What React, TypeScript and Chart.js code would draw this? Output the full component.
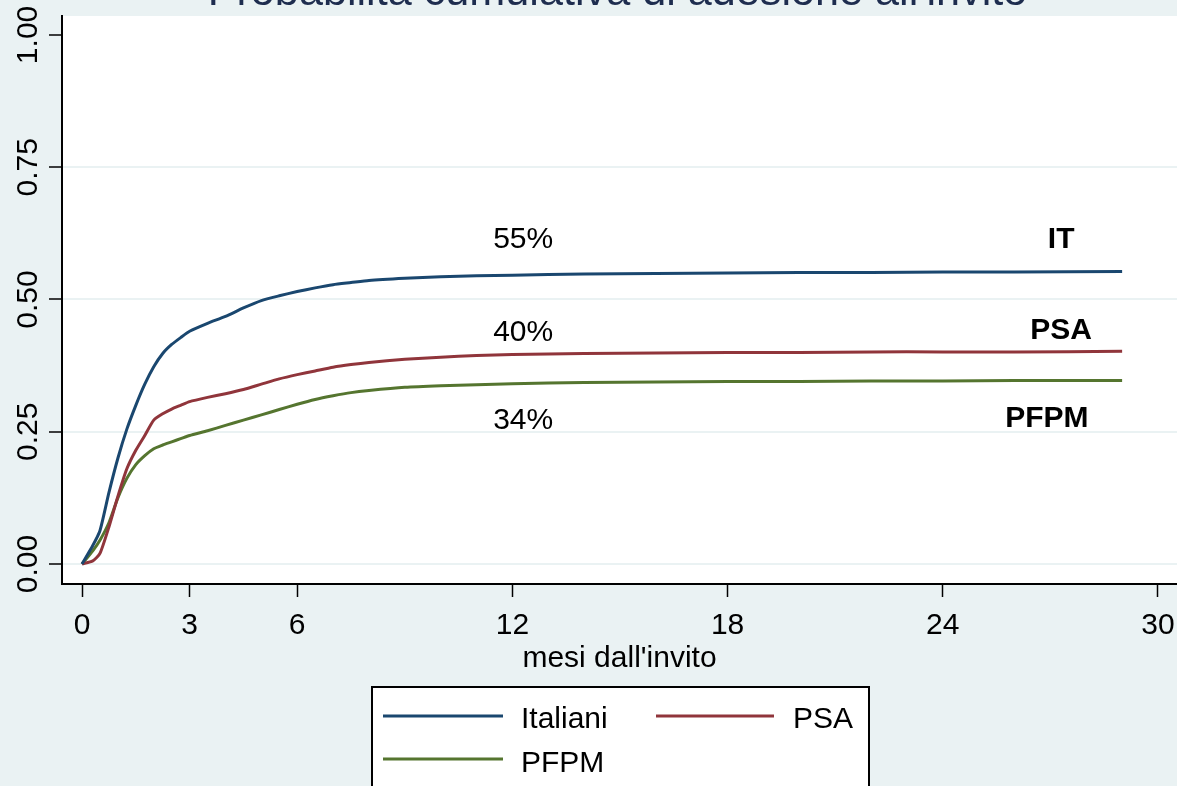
import React, { useEffect, useRef } from "react";
import { Chart, registerables } from "chart.js";

Chart.register(...registerables);

// ---------- data ----------
const months = [0, 0.3, 0.5, 0.75, 1, 1.25, 1.5, 1.75, 2, 2.25, 2.5, 2.75, 3, 3.5, 4, 4.5, 5, 5.5, 6, 6.5, 7, 7.5, 8, 9, 10, 11, 12, 14, 16, 18, 20, 22, 24, 26, 29];

const italiani = [0, 0.035, 0.063, 0.135, 0.2, 0.255, 0.3, 0.34, 0.373, 0.398, 0.415, 0.428, 0.44, 0.455, 0.468, 0.484, 0.498, 0.507, 0.515, 0.522, 0.528, 0.532, 0.536, 0.54, 0.543, 0.545, 0.546, 0.548, 0.549, 0.55, 0.551, 0.551, 0.552, 0.552, 0.553];

const psa = [0, 0.006, 0.02, 0.07, 0.128, 0.18, 0.215, 0.243, 0.272, 0.284, 0.293, 0.3, 0.307, 0.315, 0.322, 0.33, 0.34, 0.35, 0.358, 0.365, 0.372, 0.377, 0.381, 0.387, 0.391, 0.394, 0.396, 0.398, 0.399, 0.4, 0.4, 0.401, 0.401, 0.401, 0.402];

const pfpm = [0, 0.025, 0.045, 0.078, 0.125, 0.162, 0.188, 0.205, 0.218, 0.225, 0.231, 0.237, 0.243, 0.252, 0.262, 0.272, 0.282, 0.292, 0.302, 0.311, 0.318, 0.324, 0.328, 0.334, 0.337, 0.339, 0.341, 0.343, 0.344, 0.345, 0.345, 0.346, 0.346, 0.347, 0.347];

const seriesNames = ["Italiani", "PSA", "PFPM"];
const seriesColors = ["#1a476f", "#90353b", "#55752f"];

const xTicks = [0, 3, 6, 12, 18, 24, 30];
const yTicks = [0, 0.25, 0.5, 0.75, 1];

const pctLabels = ["55%", "40%", "34%"];
const pctX = [12.3, 12.3, 12.3];
const pctY = [0.598, 0.421, 0.255];

const groupLabels = ["IT", "PSA", "PFPM"];
const groupX = [27.3, 27.3, 26.9];
const groupY = [0.598, 0.426, 0.259];

const titleText = "Probabilità cumulativa di adesione all'invito";
const xTitleText = "mesi dall'invito";

const W = 1177;
const H = 786;
const BG = "#EAF2F3";
const FONT = "'Liberation Sans', Arial, sans-serif";

const decorPlugin = {
  id: "decor",
  beforeDraw(chart: any) {
    const { ctx, chartArea } = chart;
    ctx.save();
    ctx.fillStyle = BG;
    ctx.fillRect(0, 0, chart.width, chart.height);
    ctx.fillStyle = "#ffffff";
    ctx.fillRect(chartArea.left, chartArea.top, chartArea.right - chartArea.left, chartArea.bottom - chartArea.top);
    ctx.restore();
  },
  afterDraw(chart: any) {
    const { ctx, chartArea } = chart;
    const xs = chart.scales.x;
    const ys = chart.scales.y;
    ctx.save();
    ctx.fillStyle = "#000";

    // y tick labels (rotated)
    ctx.font = `30px ${FONT}`;
    ctx.textAlign = "center";
    ctx.textBaseline = "alphabetic";
    ys.ticks.forEach((t: any) => {
      const py = ys.getPixelForValue(t.value);
      ctx.save();
      ctx.translate(37, py);
      ctx.rotate(-Math.PI / 2);
      ctx.fillText(Number(t.value).toFixed(2), 0, 0);
      ctx.restore();
    });

    // x tick labels
    xs.ticks.forEach((t: any) => {
      const px = xs.getPixelForValue(t.value);
      ctx.fillText(String(t.value), px, 634);
    });

    // x title
    const cx = (chartArea.left + chartArea.right) / 2;
    ctx.fillText(xTitleText, cx, 667);

    // in-plot labels
    pctLabels.forEach((l, i) => {
      ctx.fillText(l, xs.getPixelForValue(pctX[i]), ys.getPixelForValue(pctY[i]));
    });
    ctx.font = `bold 30px ${FONT}`;
    groupLabels.forEach((l, i) => {
      ctx.fillText(l, xs.getPixelForValue(groupX[i]), ys.getPixelForValue(groupY[i]));
    });

    // title
    ctx.font = `100px ${FONT}`;
    const w100 = ctx.measureText(titleText).width;
    const fs = (100 * 820) / w100;
    ctx.font = `${fs}px ${FONT}`;
    ctx.fillStyle = "#1e2d4f";
    ctx.fillText(titleText, cx - 2, 5);

    // legend
    ctx.fillStyle = "#ffffff";
    ctx.fillRect(372, 687, 497, 120);
    ctx.strokeStyle = "#000";
    ctx.lineWidth = 2;
    ctx.strokeRect(372, 687, 497, 120);
    const items = [
      { x0: 383, x1: 503, y: 716, tx: 521, ty: 728 },
      { x0: 656, x1: 774, y: 716, tx: 793, ty: 728 },
      { x0: 383, x1: 503, y: 759, tx: 521, ty: 772 },
    ];
    ctx.font = `30px ${FONT}`;
    ctx.textAlign = "left";
    chart.data.datasets.forEach((ds: any, i: number) => {
      const it = items[i];
      ctx.strokeStyle = ds.borderColor;
      ctx.lineWidth = 3;
      ctx.beginPath();
      ctx.moveTo(it.x0, it.y);
      ctx.lineTo(it.x1, it.y);
      ctx.stroke();
      ctx.fillStyle = "#000";
      ctx.fillText(ds.label, it.tx, it.ty);
    });
    ctx.restore();
  },
};

export default function App() {
  const ref = useRef<HTMLCanvasElement | null>(null);
  useEffect(() => {
    document.body.style.margin = "0";
    const canvas = ref.current;
    if (!canvas) return;
    const seriesValues = [italiani, psa, pfpm];
    const chart = new Chart(canvas, {
      type: "line",
      data: {
        datasets: seriesValues.map((vals, i) => ({
          label: seriesNames[i],
          data: months.map((m, j) => ({ x: m, y: vals[j] })),
          borderColor: seriesColors[i],
          backgroundColor: seriesColors[i],
          borderWidth: 3,
          pointRadius: 0,
          tension: 0.2,
          fill: false,
        })),
      },
      options: {
        responsive: false,
        animation: false,
        devicePixelRatio: 1,
        layout: { padding: { top: 16, left: 0, right: 0, bottom: 0 } },
        plugins: {
          legend: { display: false },
          title: { display: false },
          tooltip: { enabled: false },
        },
        scales: {
          x: {
            type: "linear",
            min: -0.558,
            max: 30.53,
            afterBuildTicks: (s: any) => {
              s.ticks = xTicks.map((v) => ({ value: v }));
            },
            afterFit: (s: any) => {
              s.height = 202;
            },
            ticks: { display: false },
            grid: {
              drawOnChartArea: false,
              drawTicks: true,
              tickLength: 13,
              tickColor: "#000",
              tickWidth: 1.5,
            },
            border: { display: true, color: "#000", width: 2 },
          },
          y: {
            type: "linear",
            min: -0.0377,
            max: 1.0358,
            afterBuildTicks: (s: any) => {
              s.ticks = yTicks.map((v) => ({ value: v }));
            },
            afterFit: (s: any) => {
              s.width = 62;
            },
            ticks: { display: false },
            grid: {
              color: (c: any) => (c.tick && c.tick.value === 1 ? "rgba(0,0,0,0)" : BG),
              lineWidth: 2,
              drawTicks: true,
              tickLength: 13,
              tickColor: "#000",
              tickWidth: 1.5,
            },
            border: { display: true, color: "#000", width: 2 },
          },
        },
      } as any,
      plugins: [decorPlugin],
    });
    return () => chart.destroy();
  }, []);

  return (
    <div style={{ position: "fixed", left: 0, top: 0, width: W, height: H, background: BG }}>
      <canvas ref={ref} width={W} height={H} style={{ display: "block", width: W, height: H }} />
    </div>
  );
}
